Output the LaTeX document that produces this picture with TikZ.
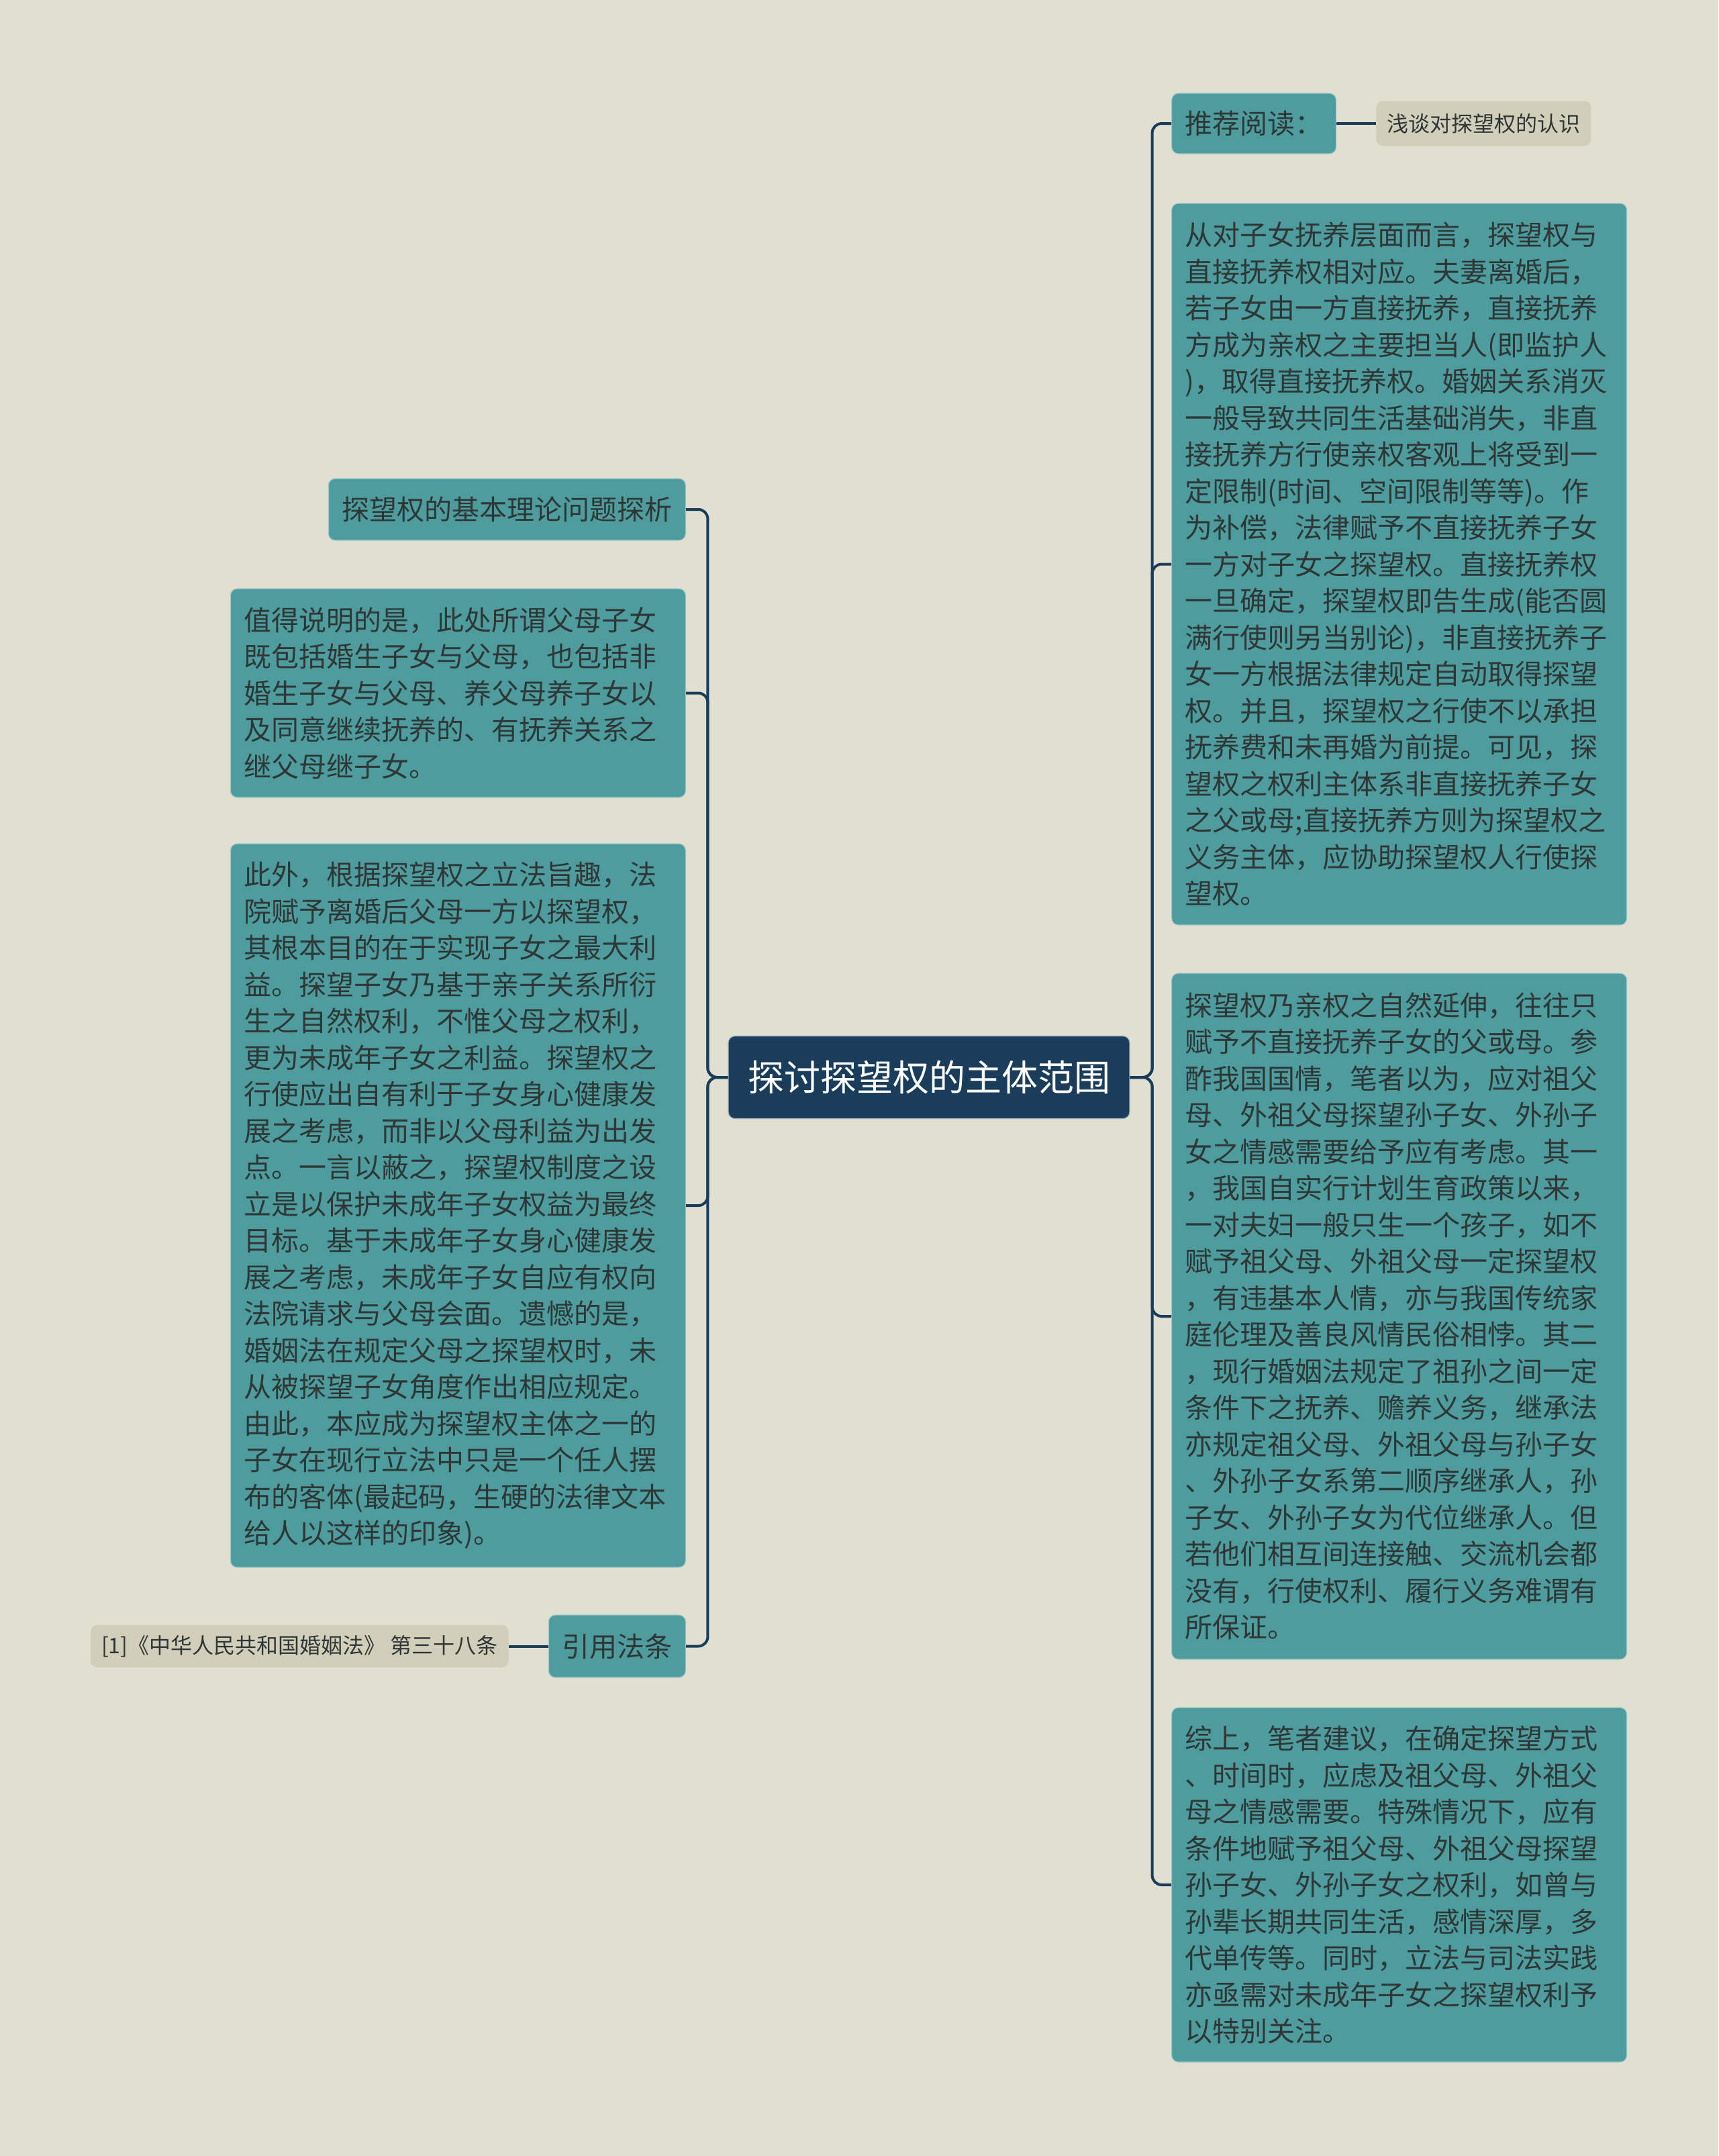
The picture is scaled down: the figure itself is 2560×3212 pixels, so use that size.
\documentclass[tikz,border=0pt]{standalone}
\usepackage{fontspec}
\setmainfont{Noto Sans CJK SC}
\usetikzlibrary{positioning}
\definecolor{paper}{HTML}{E0DFD0}
\definecolor{navy}{HTML}{1B3D5C}
\definecolor{tealbox}{HTML}{4E9C9D}
\definecolor{sand}{HTML}{D1CFB9}
\definecolor{ink}{HTML}{2F3636}

\begin{document}
\begin{tikzpicture}[x=0.5pt,y=-0.5pt,
  topic/.style={rectangle,rounded corners=5pt,fill=tealbox,draw=tealbox!55!white,line width=0.6pt,
    text=ink,inner xsep=10pt,inner ysep=0pt,font=\fontsize{20.5}{27.25}\selectfont},
  textbox/.style={topic,align=left,text width=319pt,minimum width=339pt},
  rootbox/.style={rectangle,rounded corners=5pt,fill=navy,draw=navy!40!white,line width=0.6pt,
    text=white,minimum width=299pt,minimum height=61.5pt,font=\fontsize{27}{32}\selectfont},
  leaf/.style={rectangle,rounded corners=5pt,fill=sand,text=ink,inner xsep=8pt,
    font=\fontsize{16}{20}\selectfont},
  link/.style={draw=navy,line width=2pt,rounded corners=7pt}]
  \useasboundingbox (0,0) rectangle (2560,3212);
  \fill[paper] (0,0) rectangle (2560,3212);

  \node[rootbox] (n0) at (1384,1605) {探讨探望权的主体范围};

  % right side
  \node[topic,anchor=west,minimum width=122pt,minimum height=45pt] (r1) at (1745,184) {推荐阅读：};
  \node[leaf,anchor=west,minimum width=159pt,minimum height=33.5pt] (r1a) at (2050,184) {浅谈对探望权的认识};
  \node[textbox,anchor=west,minimum height=537.5pt] (r2) at (1745,840.5) {%
从对子女抚养层面而言，探望权与\\
直接抚养权相对应。夫妻离婚后，\\
若子女由一方直接抚养，直接抚养\\
方成为亲权之主要担当人(即监护人\\
)，取得直接抚养权。婚姻关系消灭\\
一般导致共同生活基础消失，非直\\
接抚养方行使亲权客观上将受到一\\
定限制(时间、空间限制等等)。作\\
为补偿，法律赋予不直接抚养子女\\
一方对子女之探望权。直接抚养权\\
一旦确定，探望权即告生成(能否圆\\
满行使则另当别论)，非直接抚养子\\
女一方根据法律规定自动取得探望\\
权。并且，探望权之行使不以承担\\
抚养费和未再婚为前提。可见，探\\
望权之权利主体系非直接抚养子女\\
之父或母;直接抚养方则为探望权之\\
义务主体，应协助探望权人行使探\\
望权。};
  \node[textbox,anchor=west,minimum height=511pt] (r3) at (1745,1961) {%
探望权乃亲权之自然延伸，往往只\\
赋予不直接抚养子女的父或母。参\\
酢我国国情，笔者以为，应对祖父\\
母、外祖父母探望孙子女、外孙子\\
女之情感需要给予应有考虑。其一\\
，我国自实行计划生育政策以来，\\
一对夫妇一般只生一个孩子，如不\\
赋予祖父母、外祖父母一定探望权\\
，有违基本人情，亦与我国传统家\\
庭伦理及善良风情民俗相悖。其二\\
，现行婚姻法规定了祖孙之间一定\\
条件下之抚养、赡养义务，继承法\\
亦规定祖父母、外祖父母与孙子女\\
、外孙子女系第二顺序继承人，孙\\
子女、外孙子女为代位继承人。但\\
若他们相互间连接触、交流机会都\\
没有，行使权利、履行义务难谓有\\
所保证。};
  \node[textbox,anchor=west,minimum height=264pt] (r4) at (1745,2808) {%
综上，笔者建议，在确定探望方式\\
、时间时，应虑及祖父母、外祖父\\
母之情感需要。特殊情况下，应有\\
条件地赋予祖父母、外祖父母探望\\
孙子女、外孙子女之权利，如曾与\\
孙辈长期共同生活，感情深厚，多\\
代单传等。同时，立法与司法实践\\
亦亟需对未成年子女之探望权利予\\
以特别关注。};

  % left side
  \node[topic,anchor=east,minimum width=265pt,minimum height=46pt] (l1) at (1022,759) {探望权的基本理论问题探析};
  \node[textbox,anchor=east,minimum height=155.5pt] (l2) at (1022,1032.5) {%
值得说明的是，此处所谓父母子女\\
既包括婚生子女与父母，也包括非\\
婚生子女与父母、养父母养子女以\\
及同意继续抚养的、有抚养关系之\\
继父母继子女。};
  \node[textbox,anchor=east,minimum height=539pt] (l3) at (1022,1796) {%
此外，根据探望权之立法旨趣，法\\
院赋予离婚后父母一方以探望权，\\
其根本目的在于实现子女之最大利\\
益。探望子女乃基于亲子关系所衍\\
生之自然权利，不惟父母之权利，\\
更为未成年子女之利益。探望权之\\
行使应出自有利于子女身心健康发\\
展之考虑，而非以父母利益为出发\\
点。一言以蔽之，探望权制度之设\\
立是以保护未成年子女权益为最终\\
目标。基于未成年子女身心健康发\\
展之考虑，未成年子女自应有权向\\
法院请求与父母会面。遗憾的是，\\
婚姻法在规定父母之探望权时，未\\
从被探望子女角度作出相应规定。\\
由此，本应成为探望权主体之一的\\
子女在现行立法中只是一个任人摆\\
布的客体(最起码，生硬的法律文本\\
给人以这样的印象)。};
  \node[topic,anchor=east,minimum width=101.5pt,minimum height=46.5pt] (l4) at (1022,2452.5) {引用法条};
  \node[leaf,anchor=east,minimum width=310.5pt,minimum height=31.5pt] (l4a) at (758,2452.5) {[1]《中华人民共和国婚姻法》 第三十八条};

  % connectors
  \foreach \n in {r1,r2,r3,r4}
    \draw[link] (n0.east) -- ++(33,0) |- (\n.west);
  \foreach \n in {l1,l2,l3,l4}
    \draw[link] (n0.west) -- ++(-30,0) |- (\n.east);
  \draw[link] (r1.east) -- (r1a.west);
  \draw[link] (l4.west) -- (l4a.east);
\end{tikzpicture}
\end{document}
